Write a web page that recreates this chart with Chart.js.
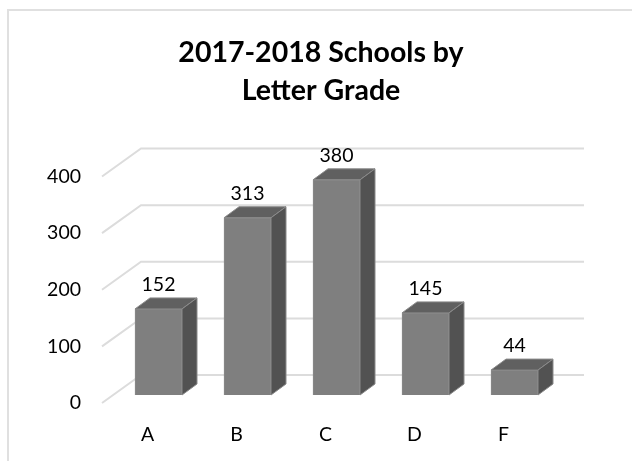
<!DOCTYPE html>
<html>
<head>
<meta charset="utf-8">
<title>2017-2018 Schools by Letter Grade</title>
<script src="https://cdn.jsdelivr.net/npm/chart.js@4/dist/chart.umd.min.js"></script>
<style>
html, body { margin: 0; padding: 0; background: #fff; }
#wrap { position: relative; width: 632px; height: 461px; overflow: hidden; }
#frame { position: absolute; left: 7px; top: 9px; width: 640px; height: 470px; border: 2px solid #e0e0e0; }
canvas { position: absolute; left: 0; top: 0; }
</style>
</head>
<body>
<div id="wrap">
<div id="frame"></div>
<canvas id="gradeChart" width="632" height="461"></canvas>
</div>
<script>
const titleLines = ['2017-2018 Schools by', 'Letter Grade'];
const grades = ['A', 'B', 'C', 'D', 'F'];
const schools = [152, 313, 380, 145, 44];
const yTicks = [0, 100, 200, 300, 400];

// fake 3d look: depth of the bars and of the floor/wall
const barDepth = { x: 15, y: 11 };
const wall = { left: 102, back: 141, right: 584, frontDrop: 8, backRise: 20 };

const wallGrid = {
    id: 'wallGrid',
    beforeDatasetsDraw(chart) {
        const ctx = chart.ctx;
        const yScale = chart.scales.y;
        ctx.save();
        ctx.strokeStyle = '#dcdcdc';
        ctx.lineWidth = 2;
        yTicks.forEach((v) => {
            const y = yScale.getPixelForValue(v);
            ctx.beginPath();
            ctx.moveTo(wall.left, y + wall.frontDrop);
            ctx.lineTo(wall.back, y - wall.backRise);
            ctx.lineTo(wall.right, y - wall.backRise);
            ctx.stroke();
        });
        ctx.restore();
    }
};

const barSides = {
    id: 'barSides',
    afterDatasetsDraw(chart) {
        const ctx = chart.ctx;
        const bars = chart.getDatasetMeta(0).data;
        ctx.save();
        ctx.strokeStyle = '#8a8a8a';
        ctx.lineWidth = 1;
        bars.forEach((bar, i) => {
            const left = bar.x - bar.width / 2;
            const right = bar.x + bar.width / 2;
            const top = bar.y;
            const base = bar.base;

            // top face
            ctx.fillStyle = '#606060';
            ctx.beginPath();
            ctx.moveTo(left, top);
            ctx.lineTo(left + barDepth.x, top - barDepth.y);
            ctx.lineTo(right + barDepth.x, top - barDepth.y);
            ctx.lineTo(right, top);
            ctx.closePath();
            ctx.fill();
            ctx.stroke();

            // side face
            ctx.fillStyle = '#525252';
            ctx.beginPath();
            ctx.moveTo(right, top);
            ctx.lineTo(right + barDepth.x, top - barDepth.y);
            ctx.lineTo(right + barDepth.x, base - barDepth.y);
            ctx.lineTo(right, base);
            ctx.closePath();
            ctx.fill();
            ctx.stroke();

            // value label
            ctx.fillStyle = '#000';
            ctx.font = '19.5px Lato';
            ctx.textAlign = 'center';
            ctx.textBaseline = 'middle';
            ctx.fillText(schools[i], bar.x, top - 24);
        });
        ctx.restore();
    }
};

const ctx = document.getElementById('gradeChart').getContext('2d');
new Chart(ctx, {
    type: 'bar',
    data: {
        labels: grades,
        datasets: [{
            data: schools,
            backgroundColor: '#7f7f7f',
            borderColor: '#8a8a8a',
            borderWidth: 1,
            barThickness: 47,
        }]
    },
    options: {
        responsive: false,
        animation: false,
        layout: { padding: { left: 40, right: 30, top: 0, bottom: 0 } },
        plugins: {
            legend: { display: false },
            tooltip: { enabled: false },
            title: {
                display: true,
                text: titleLines,
                color: '#000',
                font: { family: 'Lato', size: 28.5, weight: 'bold', lineHeight: 1.33 },
                padding: { top: 34, bottom: 58.7 },
            },
        },
        scales: {
            x: {
                grid: { display: false, drawTicks: false },
                border: { display: false },
                afterFit(scale) { scale.height = 66; },
                ticks: {
                    color: '#000',
                    font: { family: 'Lato', size: 19.5 },
                    labelOffset: -11,
                    padding: 28,
                    maxRotation: 0,
                },
            },
            y: {
                min: 0,
                max: 400,
                grid: { display: false, drawTicks: false },
                border: { display: false },
                afterFit(scale) { scale.width = 74; },
                afterBuildTicks(scale) { scale.ticks = yTicks.map((v) => ({ value: v })); },
                ticks: {
                    color: '#000',
                    font: { family: 'Lato', size: 19.5 },
                    labelOffset: 8,
                    padding: 33,
                },
            },
            // empty axis on the right, keeps the plot left of the centred title
            yRight: {
                type: 'linear',
                position: 'right',
                grid: { display: false, drawTicks: false },
                border: { display: false },
                ticks: { display: false },
                afterFit(scale) { scale.width = 43; },
            },
        },
    },
    plugins: [wallGrid, barSides],
});
</script>
</body>
</html>
